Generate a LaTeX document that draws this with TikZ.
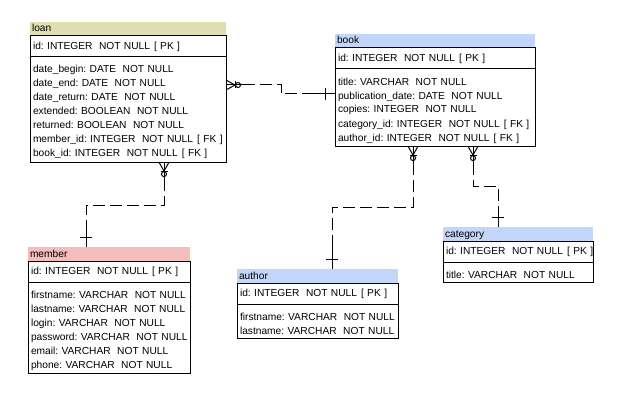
\documentclass[tikz,border=0pt]{standalone}
\usepackage{fontspec}
\setmainfont{Liberation Sans}
\usetikzlibrary{calc}
\definecolor{loanhd}{RGB}{224,223,180}
\definecolor{bluehd}{RGB}{194,214,250}
\definecolor{pinkhd}{RGB}{246,189,189}
\newcommand\tg{\hspace{6.5pt}}
\newcommand\kg{\hspace{4pt}}
\newcommand\rs{\rule[-1pt]{0pt}{14pt}}
\newcommand\hs{\rule[-4pt]{0pt}{14pt}}
\newcommand\rowx[1]{\mbox{\rs#1}}
\newcommand\nodefont{\fontsize{10.2}{14}\selectfont\frenchspacing\lineskiplimit=-20pt\relax}
\begin{document}
\begin{tikzpicture}[x=1pt,y=-1pt, line width=1pt,
 every node/.style={font=\nodefont, outer sep=0pt},
 hdr/.style={anchor=north west, inner xsep=2pt, inner ysep=0pt, align=left},
 pkrow/.style={draw, anchor=north west, inner xsep=3pt, inner ysep=0pt, minimum height=21pt, align=left},
 attrs/.style={draw, anchor=north west, inner xsep=3pt, inner ysep=3pt, align=left},
 conn/.style={dash pattern=on 12pt off 5pt},
 zmany/.pic={\draw (0,-5)--(9,0)--(0,5); \draw (9,-3.5)--(9,3.5); \draw (12,0) circle (2.5pt);},
 onebar/.pic={\draw (10,-6)--(10,6);}
]
\fill[white] (0,0) rectangle (628,401);
\useasboundingbox (0,0) rectangle (628,401);

% loan
\node[hdr, fill=loanhd, text width=192pt] (loanH) at (30,22) {\hs loan};
\node[pkrow, text width=190pt] (loanK) at (loanH.south west) {\mbox{id: INTEGER\tg NOT NULL\kg [ PK ]}};
\node[attrs, text width=190pt] (loanA) at (loanK.south west) {\rowx{date\_begin: DATE\tg NOT NULL}\\
\rowx{date\_end: DATE\tg NOT NULL}\\
\rowx{date\_return: DATE\tg NOT NULL}\\
\rowx{extended: BOOLEAN\tg NOT NULL}\\
\rowx{returned: BOOLEAN\tg NOT NULL}\\
\rowx{member\_id: INTEGER\tg NOT NULL\kg [ FK ]}\\
\rowx{book\_id: INTEGER\tg NOT NULL\kg [ FK ]}};

% book
\node[hdr, fill=bluehd, text width=196pt] (bookH) at (335,34) {\hs book};
\node[pkrow, text width=194pt] (bookK) at (bookH.south west) {\mbox{id: INTEGER\tg NOT NULL\kg [ PK ]}};
\node[attrs, text width=194pt] (bookA) at (bookK.south west) {\rowx{title: VARCHAR\tg NOT NULL}\\
\rowx{publication\_date: DATE\tg NOT NULL}\\
\rowx{copies: INTEGER\tg NOT NULL}\\
\rowx{category\_id: INTEGER\tg NOT NULL\kg [ FK ]}\\
\rowx{author\_id: INTEGER\tg NOT NULL\kg [ FK ]}};

% member
\node[hdr, fill=pinkhd, text width=158pt] (memberH) at (28,247) {\hs member};
\node[pkrow, text width=156pt] (memberK) at (memberH.south west) {\mbox{id: INTEGER\tg NOT NULL\kg [ PK ]}};
\node[attrs, text width=156pt] (memberA) at (memberK.south west) {\rowx{firstname: VARCHAR\tg NOT NULL}\\
\rowx{lastname: VARCHAR\tg NOT NULL}\\
\rowx{login: VARCHAR\tg NOT NULL}\\
\rowx{password: VARCHAR\tg NOT NULL}\\
\rowx{email: VARCHAR\tg NOT NULL}\\
\rowx{phone: VARCHAR\tg NOT NULL}};

% author
\node[hdr, fill=bluehd, text width=157pt] (authorH) at (237,269) {\hs author};
\node[pkrow, text width=155pt] (authorK) at (authorH.south west) {\mbox{id: INTEGER\tg NOT NULL\kg [ PK ]}};
\node[attrs, text width=155pt] (authorA) at (authorK.south west) {\rowx{firstname: VARCHAR\tg NOT NULL}\\
\rowx{lastname: VARCHAR\tg NOT NULL}};

% category
\node[hdr, fill=bluehd, text width=146pt] (categoryH) at (443,227) {\hs category};
\node[pkrow, text width=144pt] (categoryK) at (categoryH.south west) {\mbox{id: INTEGER\tg NOT NULL\kg [ PK ]}};
\node[attrs, text width=144pt] (categoryA) at (categoryK.south west) {\rowx{title: VARCHAR\tg NOT NULL}};

% loan - book
\coordinate (lb1) at ($(loanA.north east)+(0,28)$);
\coordinate (lb2) at ($(bookA.north west)+(0,25)$);
\draw[conn] (lb1) -- ++(55,0) |- (lb2);
\draw (lb1) -- ++(22,0);
\draw (lb2) -- ++(-33,0);
\pic at (lb1) {zmany};
\pic[rotate=180] at (lb2) {onebar};

% loan - member
\coordinate (lm1) at ($(loanA.south west)+(134,0)$);
\coordinate (lm2) at ($(memberH.north west)+(58,0)$);
\draw[conn] (lm1) -- ++(0,43) -| (lm2);
\draw (lm1) -- ++(0,28);
\draw (lm2) -- ++(0,-22);
\pic[rotate=-90] at (lm1) {zmany};
\pic[rotate=90] at (lm2) {onebar};

% book - author
\coordinate (ba1) at ($(bookA.south west)+(78,0)$);
\coordinate (ba2) at ($(authorH.north west)+(95,0)$);
\draw[conn] (ba1) -- ++(0,61) -| (ba2);
\draw (ba1) -- ++(0,28);
\draw (ba2) -- ++(0,-30);
\pic[rotate=-90] at (ba1) {zmany};
\pic[rotate=90] at (ba2) {onebar};

% book - category
\coordinate (bc1) at ($(bookA.south west)+(138,0)$);
\coordinate (bc2) at ($(categoryH.north west)+(55,0)$);
\draw[conn] (bc1) -- ++(0,40) -| (bc2);
\draw (bc1) -- ++(0,26);
\draw (bc2) -- ++(0,-20);
\pic[rotate=-90] at (bc1) {zmany};
\pic[rotate=90] at (bc2) {onebar};
\end{tikzpicture}
\end{document}
